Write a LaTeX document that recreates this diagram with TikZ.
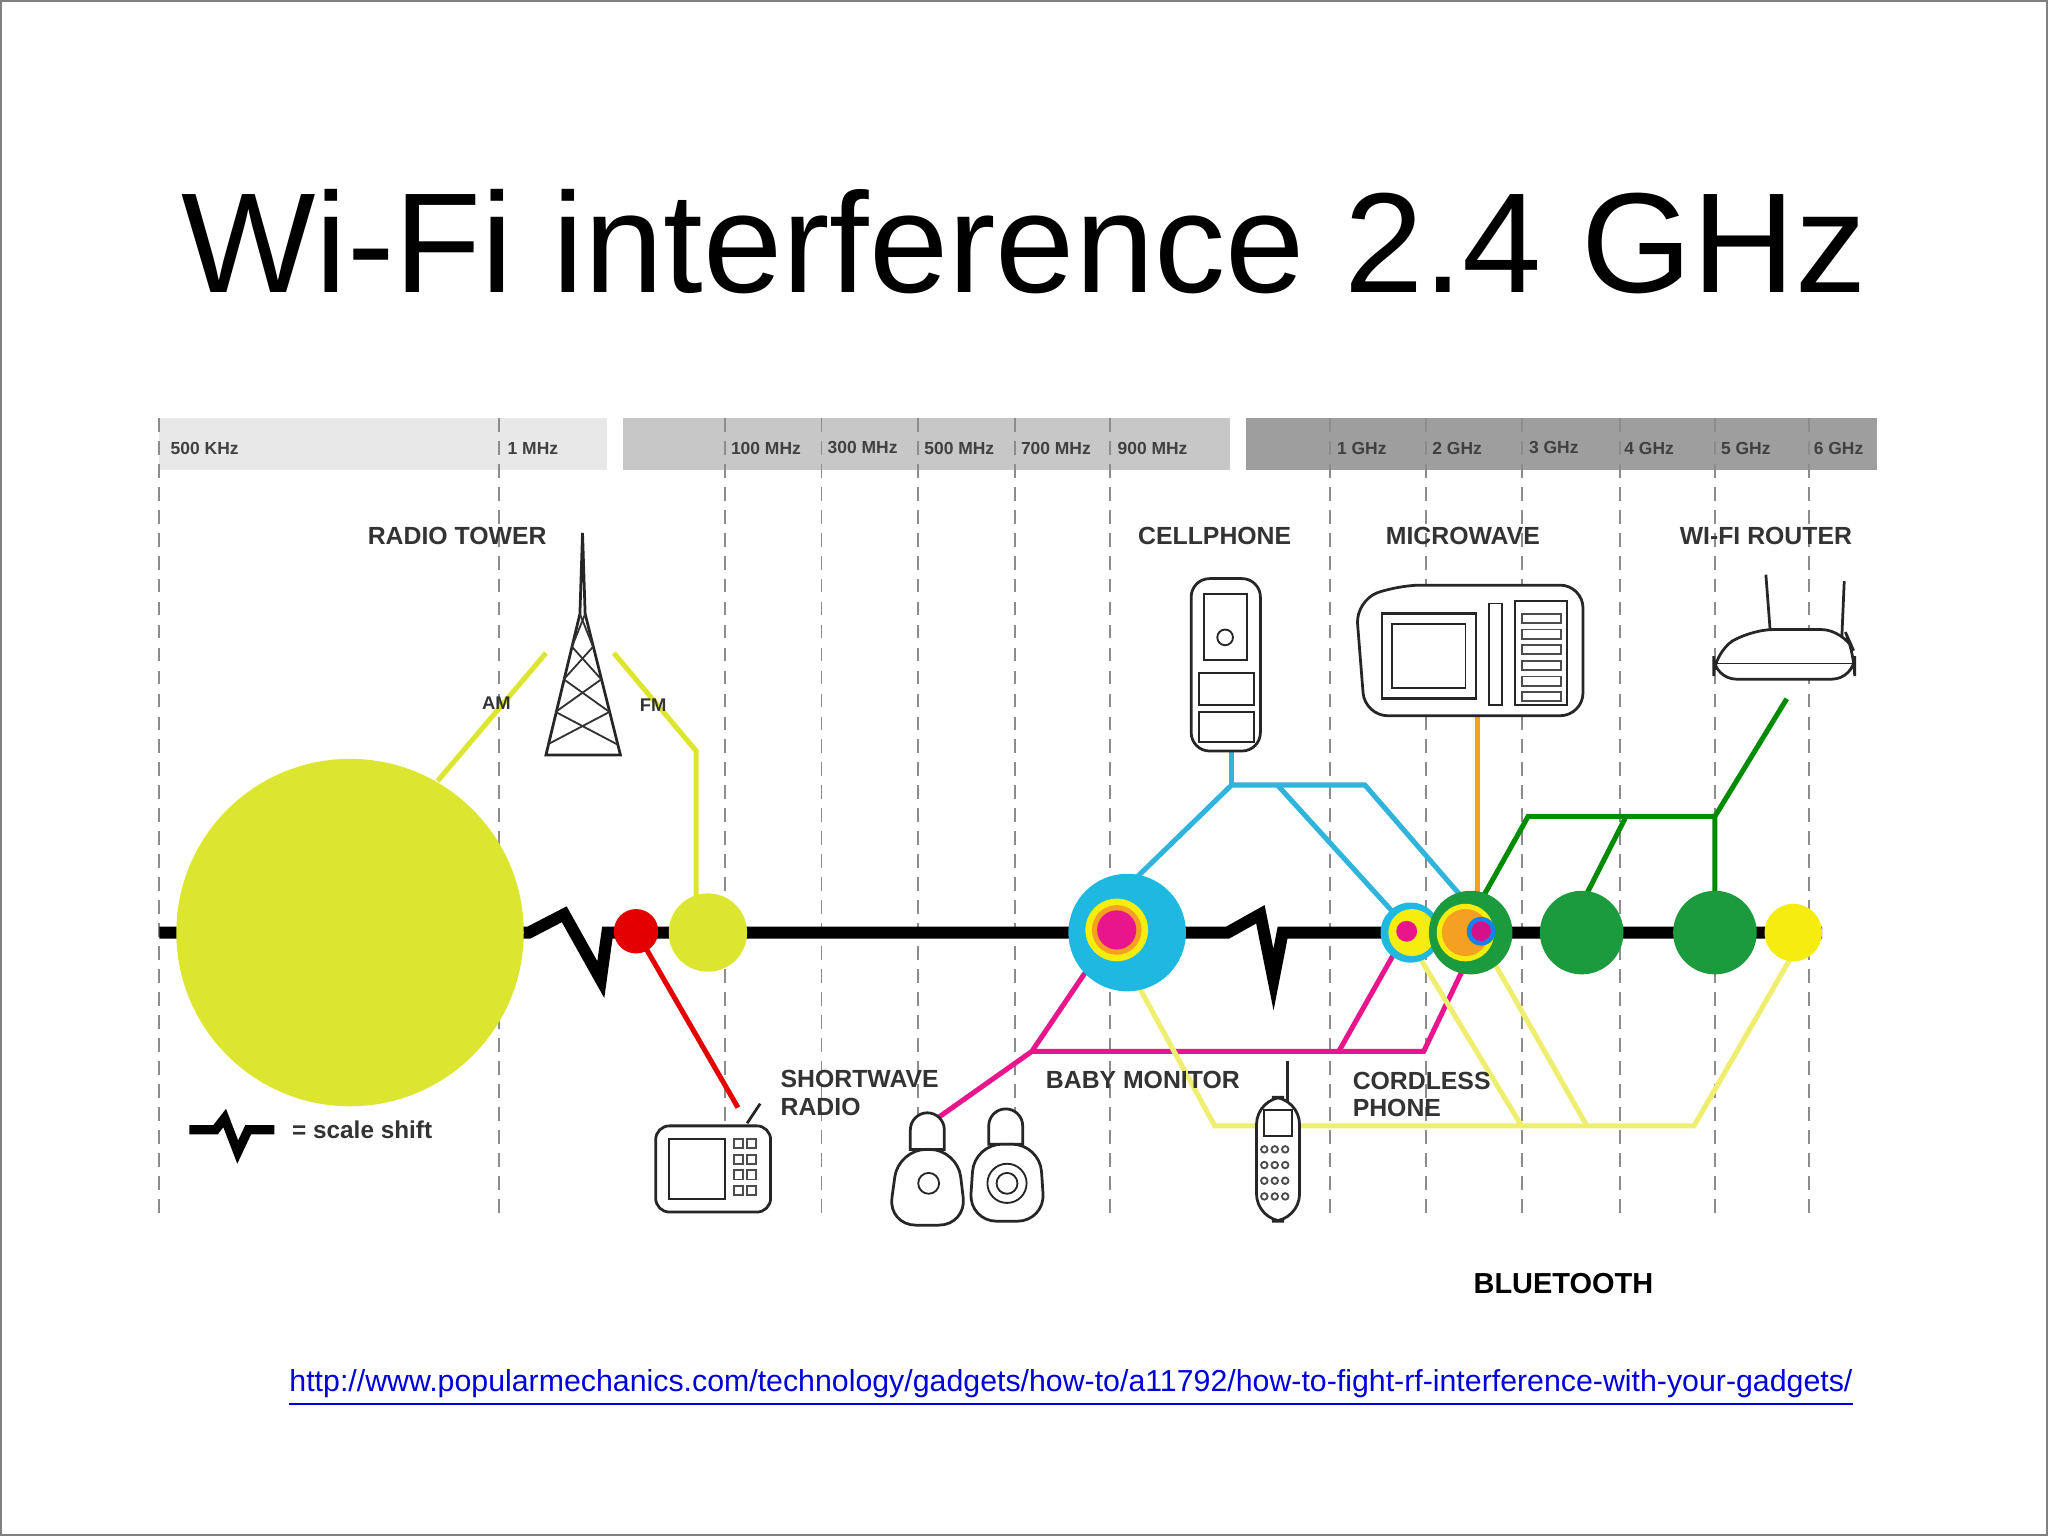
\documentclass[tikz,border=0pt]{standalone}
\usepackage{fontspec}
\setmainfont{Liberation Sans}
\begin{document}
\begin{tikzpicture}[x=0.01cm,y=-0.01cm,
 hdr/.style={font=\fontsize{3.8pt}{4pt}\selectfont\bfseries,text=black!75,anchor=west,inner sep=0},
 lbl/.style={font=\fontsize{5.4pt}{6pt}\selectfont\bfseries,text=black!80,inner sep=0},
 vline/.style={densely dashed,black!45,line width=0.4pt},
 dev/.style={draw=black!85,line width=0.6pt,fill=white},
 cy/.style={draw=cyanl,line width=1.1pt},
 mg/.style={draw=mag,line width=1.1pt},
 yl/.style={draw=yell,line width=1.1pt},
 gr/.style={draw=green!55!black,line width=1.1pt}]
\definecolor{lime}{HTML}{DCE630}
\definecolor{cyanc}{HTML}{1EB8E0}
\definecolor{cyanl}{HTML}{30B4DC}
\definecolor{mag}{HTML}{E8158C}
\definecolor{gre}{HTML}{1C9A3E}
\definecolor{yel}{HTML}{F5EC10}
\definecolor{yell}{HTML}{EEEE70}
\definecolor{ora}{HTML}{F5A020}
\useasboundingbox (0,0) rectangle (1568,1176);
\fill[white] (0,0) rectangle (1568,1176);
\draw[black!50] (1,1) rectangle (1567,1175);
\node[font=\fontsize{31pt}{34pt}\selectfont] (title) at (784,185) {Wi-Fi interference 2.4 GHz};
% header bars
\fill[black!9] (122,320) rectangle (465,360);
\fill[black!22] (477,320) rectangle (942,360);
\fill[black!38] (954,320) rectangle (1437,360);
\foreach \x/\t in {130/500 KHz,388/1 MHz,559/100 MHz,633/300 MHz,707/500 MHz,781/700 MHz,855/900 MHz,1023/1 GHz,1096/2 GHz,1170/3 GHz,1243/4 GHz,1317/5 GHz,1388/6 GHz}
  \node[hdr] at (\x,343) {\t};
\foreach \x in {122,382,555,629,703,777,850,1018,1092,1165,1240,1313,1385}
  \draw[vline] (\x,320) -- (\x,935);
% main line
\draw[line width=2.6pt] (122,714) -- (405,714) -- (432,700) -- (460,750) -- (465,714) -- (940,714) -- (965,700) -- (975,750) -- (982,714) -- (1395,714);
% connectors
\coordinate (am1) at (335,598); \coordinate (am2) at (418,500);
\draw[draw=lime,line width=1.1pt] (am1) -- (am2);
\draw[draw=lime,line width=1.1pt] (470,500) -- (533,575) -- (533,688);
\node[lbl,font=\fontsize{4pt}{4pt}\selectfont\bfseries] (aml) at (380,538) {AM};
\node[lbl,font=\fontsize{4pt}{4pt}\selectfont\bfseries] (fml) at (500,540) {FM};
\draw[draw=red!90!black,line width=1.1pt] (487,713) -- (565,848);
\draw[cy] (870,672) -- (943,601) -- (1045,601) -- (1122,690);
\draw[cy] (978,601) -- (1068,700);
\draw[cy] (943,601) -- (943,575);
\draw[draw=ora,line width=1.1pt] (1131,548) -- (1131,700);
\draw[gr] (1368,535) -- (1313,625) -- (1313,684);
\draw[gr] (1313,625) -- (1170,625) -- (1128,700);
\draw[gr] (1245,625) -- (1215,684);
\draw[mg] (853,712) -- (790,805) -- (715,858);
\draw[mg] (790,805) -- (1090,805) -- (1134,713);
\draw[mg] (1025,805) -- (1077,713);
\draw[yl] (858,730) -- (930,862) -- (1297,862) -- (1373,730);
\draw[yl] (1085,730) -- (1165,862);
\draw[yl] (1140,730) -- (1215,862);
% circles
\fill[lime] (268,714) circle (133);
\fill[red!90!black] (487,713) circle (17);
\fill[lime] (542,714) circle (30);
\fill[cyanc] (863,714) circle (45);
\fill[yel] (855,712) circle (24);
\fill[ora] (855,712) circle (19);
\fill[mag] (855,712) circle (15);
\fill[cyanc] (1080,714) circle (23);
\fill[yel] (1081,714) circle (18);
\fill[mag] (1077,713) circle (8);
\fill[gre] (1126,714) circle (32);
\fill[yel] (1122,714) circle (22);
\fill[ora] (1122,714) circle (18);
\fill[cyanc!70!blue] (1134,713) circle (11);
\fill[mag!80!violet] (1134,713) circle (7.5);
\fill[gre] (1211,714) circle (32);
\fill[gre] (1313,714) circle (32);
\fill[yel] (1373,714) circle (22);
% labels
\node[lbl] (rt) at (350,410) {RADIO TOWER};
\node[lbl] (cp) at (930,410) {CELLPHONE};
\node[lbl] (mw) at (1120,410) {MICROWAVE};
\node[lbl] (wr) at (1352,410) {WI-FI ROUTER};
\node[lbl,align=left,anchor=west] (sw) at (597,837) {SHORTWAVE\\RADIO};
\node[lbl] (bm) at (875,827) {BABY MONITOR};
\node[lbl,align=left,anchor=west] (cl) at (1035,838) {CORDLESS\\PHONE};
\draw[line width=2pt] (145,865) -- (165,865) -- (172,856) -- (182,882) -- (190,865) -- (210,865);
\node[lbl,anchor=west,font=\fontsize{5.3pt}{6pt}\selectfont\bfseries] (ss) at (223,865) {= scale shift};
\node[font=\fontsize{6.3pt}{7pt}\selectfont\bfseries] (bt) at (1197,983) {BLUETOOTH};
\node[font=\fontsize{6.6pt}{7pt}\selectfont,text=blue!85!black] (url) at (820,1063) {\underline{http://www.popularmechanics.com/technology/gadgets/how-to/a11792/how-to-fight-rf-interference-with-your-gadgets/}};
% devices
% radio tower
\draw[dev] (446,408) -- (448,470) -- (475,578) -- (418,578) -- (444,470) -- cycle;
\foreach \y in {470,495,520,545} \draw[black!80,line width=0.4pt] ({444-(\y-470)*0.25},\y) -- ({448+(\y-470)*0.25+6},{\y+25});
\foreach \y in {470,495,520,545} \draw[black!80,line width=0.4pt] ({448+(\y-470)*0.25},\y) -- ({444-(\y-470)*0.25-6},{\y+25});
% cellphone
\draw[dev,rounded corners=4] (912,443) rectangle (965,575);
\draw[black!85] (922,455) rectangle (955,505);
\draw[black!85] (938,488) circle (6);
\draw[black!85] (918,515) rectangle (960,540);
\draw[black!85] (918,545) rectangle (960,568);
% microwave
\draw[dev,rounded corners=5] (1038,460) -- (1070,448) -- (1212,448) -- (1212,548) -- (1045,548) -- cycle;
\draw[black!85,line width=0.6pt] (1058,470) rectangle (1130,535);
\draw[black!85] (1066,478) rectangle (1122,527);
\draw[black!85] (1140,462) rectangle (1150,540);
\draw[black!85] (1160,460) rectangle (1200,540);
\foreach \y in {470,482,...,530} \draw[black!70] (1165,\y) rectangle (1195,{\y+7});
% router
\draw[dev] (1352,440) -- (1356,492);
\draw[dev] (1412,445) -- (1410,492);
\draw[dev,rounded corners=5] (1312,500) -- (1340,482) -- (1412,482) -- (1420,500) -- (1420,520) -- (1312,520) -- cycle;
\draw[black!85] (1312,508) -- (1420,508);
% shortwave radio
\draw[dev] (572,860) -- (582,845);
\draw[dev,rounded corners=3] (502,862) rectangle (590,928);
\draw[black!85] (512,872) rectangle (555,918);
\foreach \y in {872,884,896,908} \foreach \x in {562,572} \draw[black!70] (\x,\y) rectangle ({\x+7},{\y+7});
% baby monitors
\draw[dev] (697,880) -- (697,865) arc (180:360:13) -- (723,880) -- cycle;
\draw[dev,rounded corners=6] (680,938) -- (688,880) -- (733,880) -- (740,938) -- cycle;
\draw[black!85] (711,906) circle (8);
\draw[dev] (757,876) -- (757,862) arc (180:360:13) -- (783,876) -- cycle;
\draw[dev,rounded corners=6] (742,935) -- (746,876) -- (796,876) -- (800,935) -- cycle;
\draw[black!85] (771,906) circle (15);
\draw[black!85] (771,906) circle (8);
% cordless phone
\draw[dev] (986,812) -- (986,845);
\draw[dev,rounded corners=6] (962,840) rectangle (995,935);
\draw[black!85] (968,850) rectangle (989,870);
\foreach \y in {880,892,...,922} \foreach \x in {968,976,984} \draw[black!70] (\x,\y) circle (2.5);
\end{tikzpicture}
\end{document}
